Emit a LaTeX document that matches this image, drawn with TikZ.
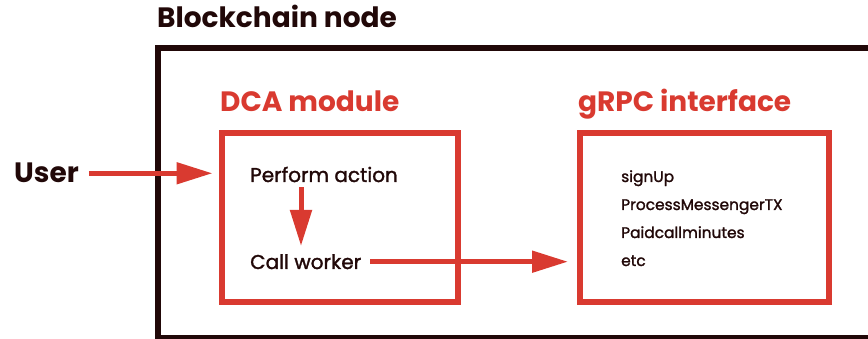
\documentclass[tikz,border=0pt]{standalone}
\usepackage{fontspec}
\setmainfont{Poppins}
\newfontfamily\mediumfont[FakeBold=1.5]{Poppins}
\usetikzlibrary{arrows.meta}
\usetikzlibrary{positioning}
\definecolor{brick}{RGB}{217,58,48}
\definecolor{ink}{RGB}{33,8,8}

\begin{document}
\begin{tikzpicture}[x=1pt,y=-1pt,
  title/.style={font=\fontsize{28}{32}\selectfont\bfseries,inner sep=0pt,anchor=base west},
  label/.style={font=\mediumfont\fontsize{20}{24}\selectfont,text=ink,inner sep=0pt,anchor=base west},
  item/.style={font=\mediumfont\fontsize{15.4}{18}\selectfont,text=ink,inner sep=0pt,anchor=base west},
  redbox/.style={draw=brick,line width=6pt,minimum width=236pt,minimum height=169pt},
  flow/.style={draw=brick,line width=5pt,-{Triangle[length=36pt,width=21pt]}}]
\useasboundingbox (0,0) rectangle (868,339);
\begin{scope}
\clip (0,0) rectangle (868,339);
% outer frame runs off the right edge
\draw[ink,line width=6pt] (900,48) -- (158,48) -- (158,338) -- (900,338);
\end{scope}

\node[title,text=ink] (chain) at (157,28) {Blockchain node};
\node[title,text=brick] (dcatitle) at (220,112) {DCA module};
\node[title,text=brick] (rpctitle) at (578,112) {gRPC interface};
\node[title,text=ink] (user) at (14,183) {User};

\node[redbox] (dca) at (339.5,217.5) {};
\node[redbox,minimum width=249pt] (rpc) at (704.5,217.5) {};

\node[label] (perform) at (250,182) {Perform action};
\node[label] (call) at (250,269) {Call worker};

\node[item] (signup) at (621,182) {signUp};
\node[item] (process) at (621,210) {ProcessMessengerTX};
\node[item] (paid) at (621,238) {Paidcallminutes};
\node[item] (etc) at (621,266) {etc};

\draw[flow,shorten <=10pt,shorten >=6pt] (user.east) -- (user.east -| dca.west);
\draw[flow,shorten <=5pt,shorten >=8pt] ([xshift=51pt]perform.south west) -- ([xshift=51pt]call.north west);
\draw[flow,shorten <=9pt,shorten >=9pt] (call.east) -- (call.east -| rpc.west);

\end{tikzpicture}
\end{document}
